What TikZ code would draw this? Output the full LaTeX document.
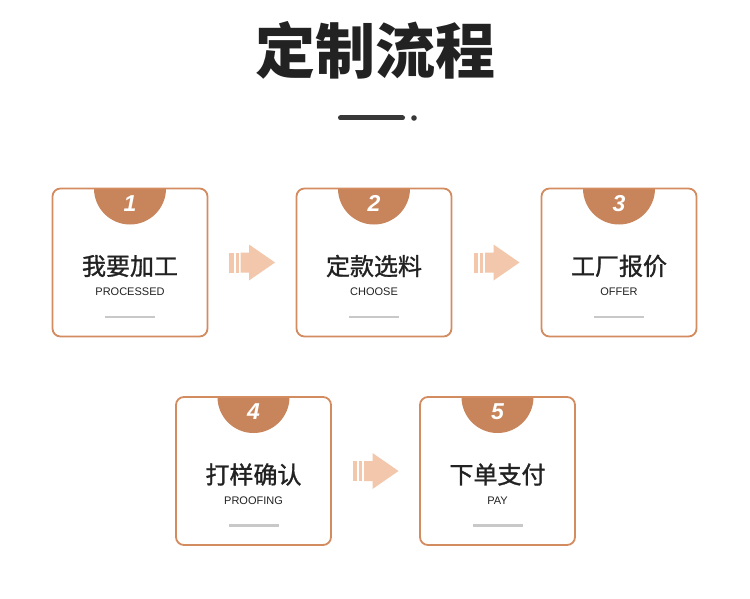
\documentclass[tikz,border=0pt]{standalone}
\usepackage{fontspec}
\setmainfont{Liberation Sans}
\newfontfamily\cjk{Noto Sans CJK SC}
\newfontfamily\cjkmid{Noto Sans CJK SC}[FakeBold=1.2]
\usetikzlibrary{calc}

\definecolor{badge}{HTML}{C8845A}
\definecolor{boxline}{HTML}{D38B60}
\definecolor{arrowfill}{HTML}{F2C7AB}
\definecolor{rulegray}{HTML}{C8C8C8}
\definecolor{ink}{HTML}{222222}

\tikzset{
  box/.style={draw=boxline, line width=1.8pt, rounded corners=8pt, fill=white,
    minimum width=155pt, minimum height=148pt,
    path picture={\fill[badge] (path picture bounding box.north) circle (36pt);}},
  num/.style={text=white, font=\fontsize{23}{23}\selectfont\bfseries\itshape, inner sep=0pt},
  cn/.style={text=ink, font=\fontsize{24}{24}\selectfont\cjkmid, inner sep=0pt},
  en/.style={text=ink, font=\fontsize{11}{11}\selectfont, inner sep=0pt},
  rule/.style={fill=rulegray, minimum width=50pt, minimum height=2.2pt, inner sep=0pt},
  flowarrow/.pic={
    \fill[arrowfill] (-23,-10) rectangle (-18.5,10);
    \fill[arrowfill] (-16.5,-10) rectangle (-13.5,10);
    \fill[arrowfill] (-11.5,-10) -- (-3,-10) -- (-3,-18) -- (23,0) -- (-3,18) -- (-3,10) -- (-11.5,10) -- cycle;
  }
}

\begin{document}
\begin{tikzpicture}[x=1pt, y=-1pt]
\useasboundingbox[fill=white] (0,0) rectangle (750,599);

% title
\node[text=ink, font=\fontsize{60}{60}\selectfont\cjk\bfseries] (title) at (375,50) {定制流程};
\draw[ink!90, line width=5pt, line cap=round] (340.5,118) -- (402.5,118);
\fill[ink!90] (414,118) circle (2.8pt);

% boxes
\node[box] (b1) at (130,262.5) {};
\node[box] (b2) at (374,262.5) {};
\node[box] (b3) at (619,262.5) {};
\node[box] (b4) at (253.5,471) {};
\node[box] (b5) at (497.5,471) {};

% numbers
\node[num] (n1) at ($(b1.north)+(0,15.5)$) {1};
\node[num] (n2) at ($(b2.north)+(0,15.5)$) {2};
\node[num] (n3) at ($(b3.north)+(0,15.5)$) {3};
\node[num] (n4) at ($(b4.north)+(0,15.5)$) {4};
\node[num] (n5) at ($(b5.north)+(0,15.5)$) {5};

% labels
\node[cn] (c1) at ($(b1)+(0,3.5)$) {我要加工};
\node[en] (e1) at ($(b1)+(0,29.5)$) {PROCESSED};
\node[rule] (r1) at ($(b1)+(0,54.5)$) {};

\node[cn] (c2) at ($(b2)+(0,3.5)$) {定款选料};
\node[en] (e2) at ($(b2)+(0,29.5)$) {CHOOSE};
\node[rule] (r2) at ($(b2)+(0,54.5)$) {};

\node[cn] (c3) at ($(b3)+(0,3.5)$) {工厂报价};
\node[en] (e3) at ($(b3)+(0,29.5)$) {OFFER};
\node[rule] (r3) at ($(b3)+(0,54.5)$) {};

\node[cn] (c4) at ($(b4)+(0,3.5)$) {打样确认};
\node[en] (e4) at ($(b4)+(0,29.5)$) {PROOFING};
\node[rule] (r4) at ($(b4)+(0,54.5)$) {};

\node[cn] (c5) at ($(b5)+(0,3.5)$) {下单支付};
\node[en] (e5) at ($(b5)+(0,29.5)$) {PAY};
\node[rule] (r5) at ($(b5)+(0,54.5)$) {};

% arrows
\pic at ($(b1.east)!0.5!(b2.west)$) {flowarrow};
\pic at ($(b2.east)!0.5!(b3.west)$) {flowarrow};
\pic at ($(b4.east)!0.5!(b5.west)$) {flowarrow};
\end{tikzpicture}
\end{document}
